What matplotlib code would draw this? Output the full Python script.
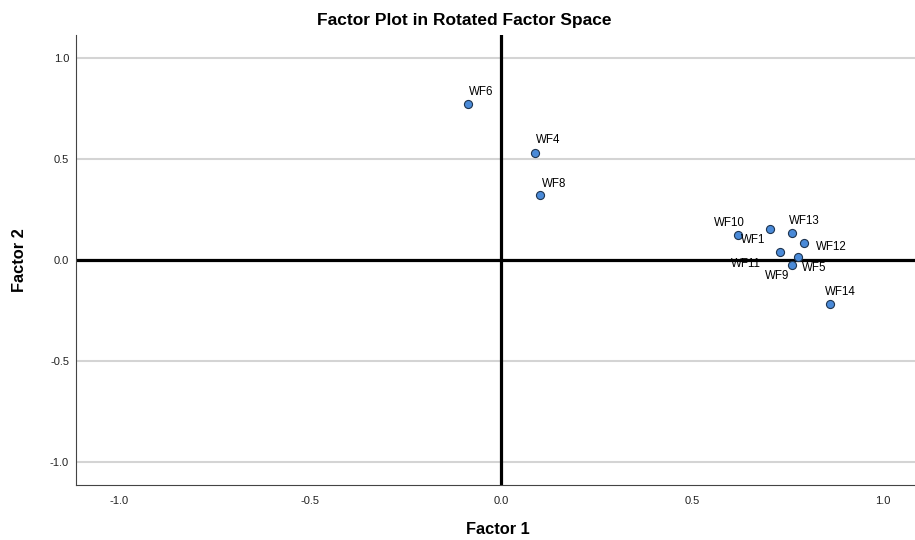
import matplotlib
matplotlib.use("Agg")
import matplotlib.pyplot as plt

labels = ["WF6", "WF4", "WF8", "WF10", "WF1", "WF13", "WF12", "WF11", "WF5", "WF9", "WF14"]
factor1 = [-0.086, 0.089, 0.102, 0.621, 0.703, 0.762, 0.793, 0.731, 0.777, 0.762, 0.861]
factor2 = [0.772, 0.530, 0.322, 0.122, 0.152, 0.133, 0.082, 0.040, 0.016, -0.025, -0.220]
ticks = [-1.0, -0.5, 0.0, 0.5, 1.0]

# label offsets in pixels (dx, dy up)
offsets = {"WF6": (13, 12), "WF4": (13, 13), "WF8": (14, 11), "WF10": (-9, 12),
           "WF1": (-16, -11), "WF13": (12, 12.5), "WF12": (27, -4), "WF11": (-34, -12.5),
           "WF5": (16, -11), "WF9": (-15, -11), "WF14": (11, 12.5)}

fig = plt.figure(figsize=(9.15, 5.4), dpi=100)
ax = fig.add_axes([76/915, 1-485/540, 1-76/915, 450/540])
ax.set_xlim(-1.113, 1.084)
ax.set_ylim(-1.114, 1.114)

for t in ticks:
    ax.axhline(t, color="#d4d4d4", lw=1.5, zorder=0)
ax.axhline(0, color="black", lw=2.3, zorder=1)
ax.axvline(0, color="black", lw=2.3, zorder=1)

ax.scatter(factor1, factor2, s=34, facecolor="#4a8ad8", edgecolor="#1f3550", linewidth=0.8, zorder=3)
for lab, x, y in zip(labels, factor1, factor2):
    dx, dy = offsets[lab]
    ax.annotate(lab, (x, y), xytext=(dx*0.72, dy*0.72), textcoords="offset points",
                ha="center", va="center", fontsize=8.3, family=["Liberation Sans", "DejaVu Sans"])

tl = ["-1.0", "-0.5", "0.0", "0.5", "1.0"]
ax.set_xticks(ticks)
ax.set_yticks(ticks)
ax.set_xticklabels(tl, family=["Liberation Sans", "DejaVu Sans"], fontsize=8, color="#222222")
ax.set_yticklabels(tl, family=["Liberation Sans", "DejaVu Sans"], fontsize=8, color="#222222")
ax.tick_params(axis="x", length=0, pad=8)
ax.tick_params(axis="y", length=0, pad=5)
for s in ["top", "right"]:
    ax.spines[s].set_visible(False)
for s in ["left", "bottom"]:
    ax.spines[s].set_color("#444444")
    ax.spines[s].set_linewidth(0.8)

fig.text(464/915, 1-20/540, "Factor Plot in Rotated Factor Space", fontsize=12.5, fontweight="bold",
         family=["Liberation Sans", "DejaVu Sans"], ha="center", va="center")
fig.text(498/915, 1-529/540, "Factor 1", fontsize=11.8, fontweight="bold",
         family=["Liberation Sans", "DejaVu Sans"], ha="center", va="center")
fig.text(20/915, 1-260/540, "Factor 2", fontsize=11.8, fontweight="bold", rotation=90,
         family=["Liberation Sans", "DejaVu Sans"], ha="center", va="center")

fig.savefig("out.png", dpi=100)
